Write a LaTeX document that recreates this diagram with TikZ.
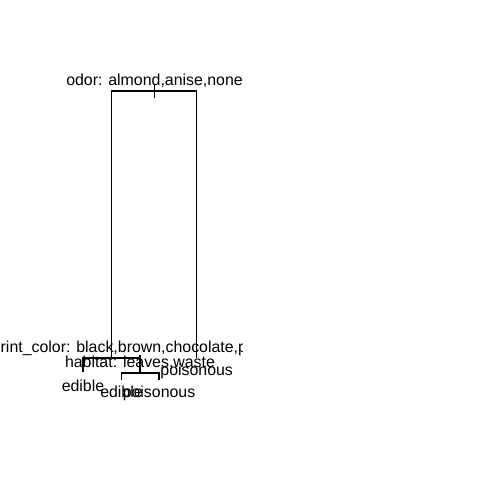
\documentclass[tikz,border=0pt]{standalone}
\usepackage{fontspec}
\setmainfont{Liberation Sans}
\usetikzlibrary{positioning}

\begin{document}
\begin{tikzpicture}[x=1pt, y=-1pt, line width=1.3pt,
        split/.style={anchor=base, inner sep=0pt, font=\fontsize{15.9}{19}\selectfont},
        leaf/.style={anchor=base, inner sep=0pt, font=\fontsize{15.9}{19}\selectfont}]
                \useasboundingbox (0,0) rectangle (484,490);

                \coordinate (n1) at (154.5, 91);
                \coordinate (n2) at (111.7, 358);
                \coordinate (n3) at (196.7, 358);

                \coordinate (n4) at (83, 372);
                \coordinate (n5) at (140, 373);
                \coordinate (n6) at (121.5, 379.5);
                \coordinate (n7) at (159, 379.5);

                \draw ([yshift=7pt]n1) -- ([yshift=-7pt]n1);
                \draw (n2) |- (n1) -| (n3);
                \draw (n4) |- (n2) -| (n5);
                \draw (n5 |- n2) -- ++(0,-3);
                \draw (n6) |- (n5) -| (n7);

                \begin{scope}
                    \clip (0,0) rectangle (242.5,490);
                    \node[split] (s1) at ([yshift=5.5pt]n1) {odor: almond,anise,none};
                    \node[split, anchor=base west] (s2) at (-57.4, 352.3) {spore\_print\_color: black,brown,chocolate,p};
                    \node[split] (s5) at ([yshift=6pt]n5) {habitat: leaves,waste};

                    \node[leaf] (l3) at ([yshift=-17pt]n3) {poisonous};
                    \node[leaf] (l4) at ([yshift=-19.7pt]n4) {edible};
                    \node[leaf] (l6) at ([yshift=-17.8pt]n6) {edible};
                    \node[leaf] (l7) at ([yshift=-17.8pt]n7) {poisonous};
                \end{scope}

            \end{tikzpicture}
\end{document}
